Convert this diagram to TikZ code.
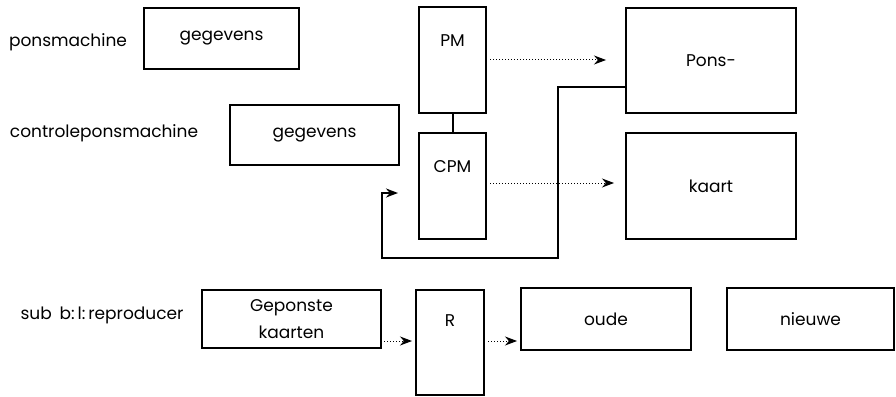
\documentclass[tikz,border=0pt]{standalone}
\usepackage{fontspec}
\setmainfont{Poppins}
\usetikzlibrary{arrows.meta}
\begin{document}
\begin{tikzpicture}[x=1pt,y=-1pt,
  box/.style={draw,line width=2pt,inner sep=0pt},
  dotarrow/.style={line width=1pt,dash pattern=on 1pt off 2pt,-{Stealth[length=12pt,width=9pt]}},
  feed/.style={line width=2pt,-{Stealth[length=12pt,width=9pt]}},
  every node/.style={font=\fontsize{17}{19}\selectfont}]
\useasboundingbox (0,0) rectangle (896,396);
\node (lpons) at (68,42) {ponsmachine};
\node (lcontr) at (104,133) {controleponsmachine};
\node (lsub) at (102,315) {sub\hspace{8pt}b:\,l:\,reproducer};
\node[box,minimum width=155pt,minimum height=61pt] (geg1) at (221.5,38.5) {gegevens};
\node[box,minimum width=169pt,minimum height=60pt] (geg2) at (314.5,135) {gegevens};
\node[box,minimum width=67pt,minimum height=106pt] (pm) at (452.5,60) {};
\node (pmtext) at ([yshift=-35pt]pm.north) {PM};
\node[box,minimum width=67pt,minimum height=106pt] (cpm) at (452.5,186) {};
\node (cpmtext) at ([yshift=-35pt]cpm.north) {CPM};
\node[box,minimum width=170pt,minimum height=105pt] (pons) at (711,60.5) {Pons-};
\node[box,minimum width=170pt,minimum height=106pt] (kaart) at (711,186) {kaart};
\node[box,minimum width=179pt,minimum height=58pt,align=center,
  font=\fontsize{17}{27}\selectfont] (gep) at (291.5,319) {Geponste\\kaarten};
\node[box,minimum width=68pt,minimum height=105pt] (r) at (450,342.5) {};
\node (rtext) at ([yshift=-32pt]r.north) {R};
\node[box,minimum width=170pt,minimum height=62pt] (oude) at (606,319) {oude};
\node[box,minimum width=167pt,minimum height=62pt] (nieuwe) at (810.5,319) {nieuwe};
\draw[line width=2pt] (pm) -- (cpm);
\draw[dotarrow] ([xshift=3pt]pm.east) -- ([xshift=-19pt]pons.west |- pm.east);
\draw[dotarrow] ([xshift=3pt,yshift=3pt]cpm.east) -- ([xshift=-11pt,yshift=3pt]kaart.west);
\draw[dotarrow] ([xshift=2pt,yshift=-22pt]gep.east) -- ([xshift=-3pt,yshift=-22pt]gep.east -| r.west);
\draw[dotarrow] ([xshift=3pt,yshift=-22pt]oude.west -| r.east) -- ([xshift=-3pt,yshift=-22pt]oude.west);
\coordinate (fbend) at (558,258);
\coordinate (fend) at (398,193);
\draw[feed] ([yshift=-26.5pt]pons.west) -| (fbend) -| (382,193) -- (fend);
\end{tikzpicture}
\end{document}
